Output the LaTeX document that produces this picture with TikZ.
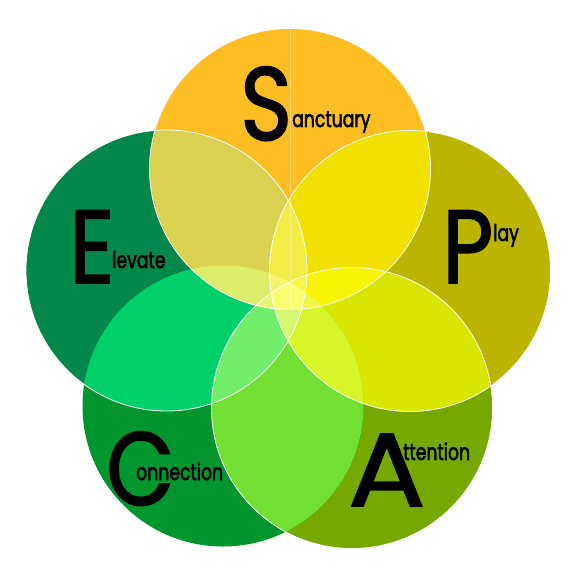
\documentclass[tikz,border=0pt]{standalone}
\usepackage{fontspec}
\setmainfont{Poppins}
\newfontfamily\capfont{Poppins}[FakeBold=1.6]
\newfontfamily\wordfont{Poppins}[FakeBold=2.6]

% circle colours
\definecolor{sanct}{HTML}{FDBE24}
\definecolor{play}{HTML}{BBB400}
\definecolor{attn}{HTML}{75A800}
\definecolor{conn}{HTML}{01962D}
\definecolor{elev}{HTML}{03874B}
% overlaps
\definecolor{SP}{HTML}{F2E000}
\definecolor{PA}{HTML}{D8E600}
\definecolor{AC}{HTML}{72DF33}
\definecolor{CE}{HTML}{00D06A}
\definecolor{ES}{HTML}{DAD150}
\definecolor{ESP}{HTML}{F3EC45}
\definecolor{SPA}{HTML}{F8F500}
\definecolor{PAC}{HTML}{D8F52A}
\definecolor{ACE}{HTML}{71EE6B}
\definecolor{CES}{HTML}{DCEC6B}
\definecolor{ESPA}{HTML}{F9F64A}
\definecolor{SPAC}{HTML}{EEF845}
\definecolor{PACE}{HTML}{D6F86E}
\definecolor{ACES}{HTML}{E5F675}
\definecolor{CESP}{HTML}{F6F36A}
\definecolor{SPACE}{HTML}{FAFF72}

\newcommand{\wide}[2]{\scalebox{#1}[1]{#2}}

\tikzset{
  capital/.style={font=\capfont\fontsize{104}{104}\selectfont, inner sep=0pt, anchor=base west},
  word/.style={font=\wordfont\fontsize{23}{23}\selectfont, inner sep=0pt, anchor=base west},
  rim/.style={draw=white, line width=0.8pt}
}

\begin{document}
\begin{tikzpicture}[x=1pt,y=-1pt]
\useasboundingbox (0,0) rectangle (583,583);
\fill[white] (0,0) rectangle (583,583);

\def\rad{140.5}
\coordinate (S) at (290,169);
\coordinate (P) at (410,271);
\coordinate (A) at (352,408);
\coordinate (C) at (223,406);
\coordinate (E) at (166.5,270.5);

% single circles
\foreach \c/\col in {S/sanct, P/play, A/attn, C/conn, E/elev}
\fill[\col] (\c) circle (\rad);

% two
\begin{scope}\clip (S) circle (\rad); \fill[SP] (P) circle (\rad);\end{scope}
\begin{scope}\clip (P) circle (\rad); \fill[PA] (A) circle (\rad);\end{scope}
\begin{scope}\clip (A) circle (\rad); \fill[AC] (C) circle (\rad);\end{scope}
\begin{scope}\clip (C) circle (\rad); \fill[CE] (E) circle (\rad);\end{scope}
\begin{scope}\clip (E) circle (\rad); \fill[ES] (S) circle (\rad);\end{scope}

% three
\begin{scope}\clip (E) circle (\rad); \clip (S) circle (\rad); \fill[ESP] (P) circle (\rad);\end{scope}
\begin{scope}\clip (S) circle (\rad); \clip (P) circle (\rad); \fill[SPA] (A) circle (\rad);\end{scope}
\begin{scope}\clip (P) circle (\rad); \clip (A) circle (\rad); \fill[PAC] (C) circle (\rad);\end{scope}
\begin{scope}\clip (A) circle (\rad); \clip (C) circle (\rad); \fill[ACE] (E) circle (\rad);\end{scope}
\begin{scope}\clip (C) circle (\rad); \clip (E) circle (\rad); \fill[CES] (S) circle (\rad);\end{scope}

% four
\begin{scope}\clip (E) circle (\rad); \clip (S) circle (\rad); \clip (P) circle (\rad); \fill[ESPA] (A) circle (\rad);\end{scope}
\begin{scope}\clip (S) circle (\rad); \clip (P) circle (\rad); \clip (A) circle (\rad); \fill[SPAC] (C) circle (\rad);\end{scope}
\begin{scope}\clip (P) circle (\rad); \clip (A) circle (\rad); \clip (C) circle (\rad); \fill[PACE] (E) circle (\rad);\end{scope}
\begin{scope}\clip (A) circle (\rad); \clip (C) circle (\rad); \clip (E) circle (\rad); \fill[ACES] (S) circle (\rad);\end{scope}
\begin{scope}\clip (C) circle (\rad); \clip (E) circle (\rad); \clip (S) circle (\rad); \fill[CESP] (P) circle (\rad);\end{scope}

% all five
\begin{scope}
\clip (S) circle (\rad); \clip (P) circle (\rad); \clip (A) circle (\rad); \clip (C) circle (\rad);
\fill[SPACE] (E) circle (\rad);
\end{scope}

% faint seam down the top circle
\begin{scope}\clip (S) circle (\rad);
\draw[white, opacity=0.3, line width=0.6pt] (S) ++(0,-150) -- ++(0,300);
\end{scope}

% white rims (none round C)
\foreach \c in {S,P,A,E}
\draw[rim] (\c) circle (\rad);

% letters
\node[capital] (Scap) at (240,140) {\wide{0.85}{S}};
\node[word] (Sword) at (292,127) {\wide{0.75}{anctuary}};
\node[capital] (Ecap) at (69,283) {\wide{0.85}{E}};
\node[word] (Eword) at (112,268) {\wide{0.75}{levate}};
\node[capital] (Pcap) at (442,283) {\wide{0.85}{P}};
\node[word] (Pword) at (493,241) {\wide{0.75}{lay}};
\node[capital] (Ccap) at (106,505) {\wide{0.85}{C}};
\node[word] (Cword) at (136,480) {\wide{0.75}{onnection}};
\node[capital] (Acap) at (348,506) {\wide{1.1}{A}};
\node[word] (Aword) at (403,460) {\wide{0.75}{ttention}};
\end{tikzpicture}
\end{document}
